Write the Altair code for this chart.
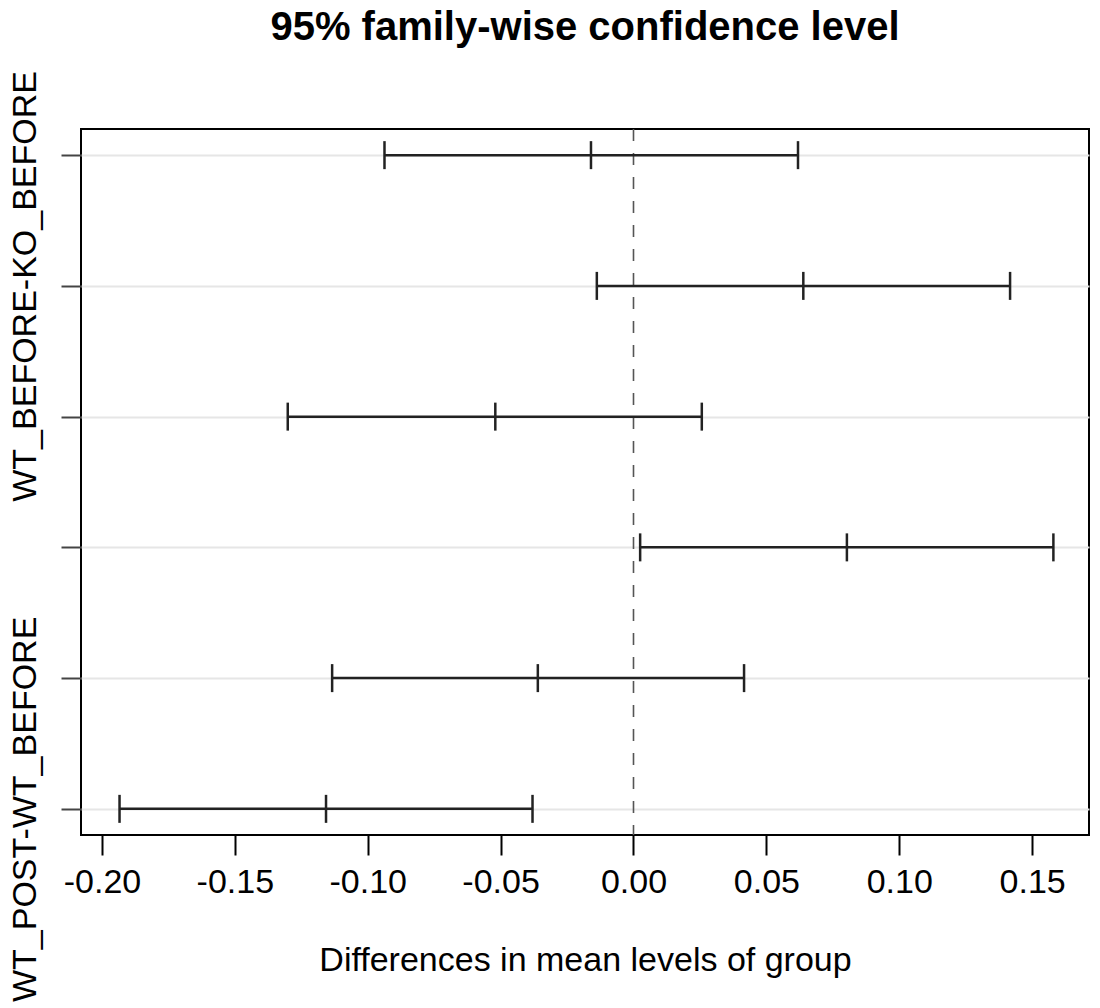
import altair as alt
import pandas as pd

# ---- data ----
comparisons = [
    "KO_POST-KO_BEFORE",
    "WT_BEFORE-KO_BEFORE",
    "WT_POST-KO_BEFORE",
    "WT_BEFORE-KO_POST",
    "WT_POST-KO_POST",
    "WT_POST-WT_BEFORE",
]
diff = [-0.0160, 0.0639, -0.0520, 0.0803, -0.0360, -0.1157]
lwr = [-0.0937, -0.0138, -0.1301, 0.0025, -0.1134, -0.1934]
upr = [0.0619, 0.1417, 0.0257, 0.1580, 0.0416, -0.0380]
shown_rows = [2, 6]  # only these y labels are drawn (others overlap)
x_ticks = [-0.20, -0.15, -0.10, -0.05, 0.00, 0.05, 0.10, 0.15]
title_text = "95% family-wise confidence level"
x_title = "Differences in mean levels of group"

FONT = "Liberation Sans"
W, H = 1008, 706
Y_DOM = [0.8, 6.2]
half_tick = 14 / (H / (Y_DOM[1] - Y_DOM[0]))

idx = list(range(1, len(comparisons) + 1))
df = pd.DataFrame({"comparison": comparisons, "idx": idx,
                   "diff": diff, "lwr": lwr, "upr": upr})
long = df.melt(id_vars=["comparison", "idx"], value_vars=["lwr", "diff", "upr"],
               var_name="stat", value_name="value")
long["y1"] = long["idx"] - half_tick
long["y2"] = long["idx"] + half_tick

xscale = alt.Scale(domain=[-0.2079, 0.1714], nice=False, zero=False)
yscale = alt.Scale(domain=Y_DOM, nice=False, zero=False, reverse=True)

label_expr = " : ".join(
    f"datum.value == {r} ? '{comparisons[r - 1]}'" for r in shown_rows) + " : ''"

x_axis = alt.Axis(values=x_ticks, labelExpr="replace(format(datum.value, '.2f'), '\u2212', '-')",
                  grid=False, domain=False, ticks=True, tickSize=20, tickWidth=2,
                  tickColor="black", labelFontSize=34, labelFont=FONT, labelColor="black",
                  labelPadding=10, title=x_title, titleFont=FONT, titleFontSize=34,
                  titleFontWeight="normal", titleColor="black", titlePadding=44,
                  labelFlush=False, labelLimit=1000)
y_axis = alt.Axis(values=idx, labelExpr=label_expr, grid=True, gridColor="#e6e6e6",
                  gridWidth=2, domain=False, ticks=True, tickSize=20, tickWidth=2,
                  tickColor="#444444", labelAngle=270, labelAlign="center",
                  labelBaseline="alphabetic", labelPadding=26, labelFontSize=34,
                  labelFont=FONT, labelColor="black", labelOverlap=False,
                  labelFlush=False, labelLimit=2000, title=None)

bars = alt.Chart(df).mark_rule(color="#222222", strokeWidth=2.5).encode(
    x=alt.X("lwr:Q", scale=xscale, axis=x_axis),
    x2="upr:Q",
    y=alt.Y("idx:Q", scale=yscale, axis=y_axis),
)

ticks = alt.Chart(long).mark_rule(color="#222222", strokeWidth=2.5).encode(
    x=alt.X("value:Q", scale=xscale),
    y=alt.Y("y1:Q", scale=yscale),
    y2="y2:Q",
)

zero = alt.Chart(pd.DataFrame({"x": [0.0]})).mark_rule(
    color="#555555", strokeWidth=1.6, strokeDash=[12, 12]).encode(
    x=alt.X("x:Q", scale=xscale),
    y=alt.value(0),
    y2=alt.value(H),
)

title = alt.Chart(pd.DataFrame({"t": [title_text]})).mark_text(
    font=FONT, fontSize=40, fontWeight="bold", color="black",
    align="center", baseline="alphabetic").encode(
    text="t:N",
    x=alt.value(W / 2),
    y=alt.value(-89),
)

chart = alt.layer(zero, bars, ticks, title).properties(
    width=W, height=H,
    autosize=alt.AutoSizeParams(type="none"),
    padding={"left": 73, "top": 121, "right": 3, "bottom": 171},
    background="white",
).configure_view(stroke="black", strokeWidth=2)

chart.save("out.html", embed_options={"renderer": "svg", "actions": False})
